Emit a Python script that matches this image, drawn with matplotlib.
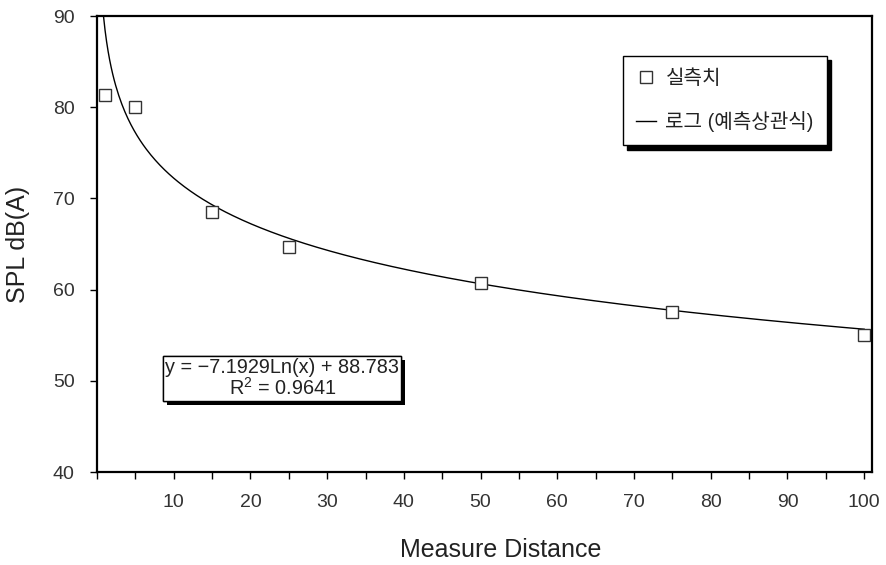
import numpy as np
import matplotlib
matplotlib.use('Agg')
from matplotlib import pyplot as plt
from matplotlib import patheffects

plt.rcParams['font.family'] = ['Liberation Sans', 'Noto Sans CJK KR', 'DejaVu Sans']

# measured SPL at each distance
distance = [1, 5, 15, 25, 50, 75, 100]
spl = [81.3, 80.0, 68.5, 64.7, 60.7, 57.6, 55.0]

# log fit coefficients
coef_a = -7.1929
coef_b = 88.783
r2 = 0.9641

fig = plt.figure(figsize=(8.86, 5.65), dpi=100)
ax = fig.add_axes([0.1095, 0.1646, 0.8745, 0.807])

xs = np.linspace(0.85, 100, 500)
ax.plot(xs, coef_a * np.log(xs) + coef_b, color='black', linewidth=1.0,
        label='로그 (예측상관식)')
ax.plot(distance, spl, linestyle='none', marker='s', markersize=8.3,
        markerfacecolor='white', markeredgecolor='#333333', markeredgewidth=1.0,
        label='실측치')

ax.set_xlim(0, 101)
ax.set_ylim(40, 90)

xt = list(range(0, 101, 5))
ax.set_xticks(xt)
ax.set_xticklabels([str(v) if v % 10 == 0 and v > 0 else '' for v in xt])
ax.set_yticks(range(40, 91, 10))
ax.tick_params(direction='out', length=5, width=1.0, labelsize=14,
               labelcolor='#333333', pad=11)

for s in ax.spines.values():
    s.set_linewidth(1.6)

ax.set_xlabel('Measure Distance', fontsize=18, color='#222222')
ax.set_ylabel('SPL dB(A)', fontsize=18, color='#222222')
ax.xaxis.set_label_coords(0.521, -0.145)
ax.yaxis.set_label_coords(-0.087, 0.5)

# legend with a hard black drop shadow
h, l = ax.get_legend_handles_labels()
leg = ax.legend(h[::-1], l[::-1], loc='upper left', bbox_to_anchor=(0.679, 0.912),
                fancybox=False, edgecolor='black', framealpha=1,
                shadow={'color': 'black', 'alpha': 1, 'ox': 3, 'oy': -3},
                fontsize=14.5, handlelength=1.0, handletextpad=0.45,
                borderpad=0.65, labelspacing=1.15, borderaxespad=0)
leg.get_frame().set_linewidth(1.0)
for t in leg.get_texts():
    t.set_color('#222222')

eq = ax.text(0.239, 0.206,
             'y = \u22127.1929Ln(x) + 88.783\n$\\mathregular{R^2}$ = 0.9641',
             transform=ax.transAxes, ha='center', va='center',
             fontsize=14.3, linespacing=1.0, color='#222222',
             bbox=dict(boxstyle='square,pad=0.1', facecolor='white',
                       edgecolor='black', linewidth=1.0))
eq.get_bbox_patch().set_path_effects([
    patheffects.withSimplePatchShadow(offset=(3, -3), shadow_rgbFace='black', alpha=1),
    patheffects.Normal()])

fig.savefig('out.png', dpi=100)
